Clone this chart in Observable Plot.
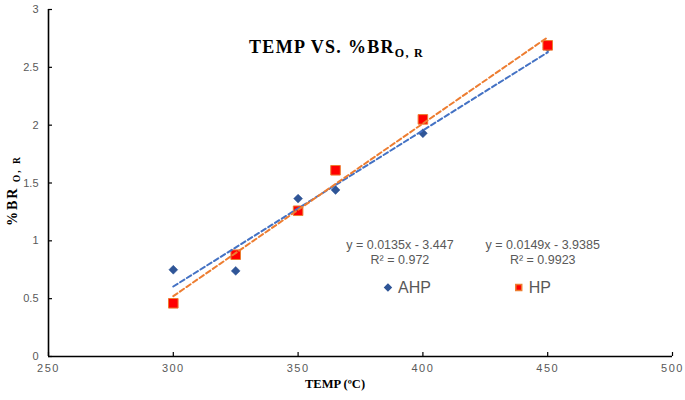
<!DOCTYPE html>
<html><head><meta charset="utf-8">
<script src="https://cdn.jsdelivr.net/npm/d3@7"></script>
<script src="https://cdn.jsdelivr.net/npm/@observablehq/plot@0.6"></script>
<style>
body{margin:0;background:#fff;}
#chart svg{overflow:visible;}
</style>
</head><body><div id="chart"></div>
<script>
// ---- data ----
const temps = [300, 325, 350, 365, 400, 450];
const ahp = [0.75, 0.74, 1.365, 1.44, 1.93, 2.67];
const hp = [0.46, 0.88, 1.26, 1.61, 2.05, 2.69];
const seriesNames = ["AHP", "HP"];
const equations = ["y = 0.0135x - 3.447", "y = 0.0149x - 3.9385"];
const rSquared = ["R² = 0.972", "R² = 0.9923"];
const xTicks = [250, 300, 350, 400, 450, 500];
const yTicks = [0, 0.5, 1, 1.5, 2, 2.5, 3];
const titleMain = "TEMP VS. %BR";
const titleSub = "O, R";
const xLabel = "TEMP (ºC)";
const yLabelMain = "%BR";
const yLabelSub = "O, R";

// ---- build ----
const ahpData = temps.map((t, i) => ({x: t, y: ahp[i]}));
const hpData = temps.map((t, i) => ({x: t, y: hp[i]}));
const blueMarker = "#2F5597", blueLine = "#4472C4";
const redFill = "#FF0000", orangeLine = "#ED7D31";
const grey = "#595959";
const tickFont = "'Liberation Sans', Arial, sans-serif";
const serif = "'Liberation Serif', 'Times New Roman', serif";

// annotation anchors (data units)
const eqX = [390.8, 448];
const eqY = 0.968, r2Y = 0.83;
const legX = [386, 438.4], legY = 0.596;

const plot = Plot.plot({
  width: 685,
  height: 400,
  marginLeft: 48,
  marginRight: 13,
  marginTop: 9,
  marginBottom: 44,
  style: {fontFamily: tickFont, background: "#fff"},
  x: {domain: [250, 500]},
  y: {domain: [0, 3]},
  marks: [
    Plot.axisX({ticks: xTicks, tickSize: -4, tickPadding: 12, fontSize: 11, color: grey, stroke: "#000", strokeWidth: 1.2, label: null, tickFormat: d => String(d)}),
    Plot.axisY({ticks: yTicks, tickSize: -4, tickPadding: 14, fontSize: 11, color: grey, stroke: "#000", strokeWidth: 1.2, label: null, tickFormat: d => String(d)}),
    Plot.ruleY([0], {stroke: "#000", strokeWidth: 1.6}),
    Plot.ruleX([250], {stroke: "#000", strokeWidth: 1.6}),
    Plot.dot(ahpData, {x: "x", y: "y", symbol: "diamond2", r: 4, fill: blueMarker, stroke: blueMarker, strokeWidth: 0.5}),
    Plot.dot(hpData, {x: "x", y: "y", symbol: "square", r: 5.4, fill: redFill, stroke: orangeLine, strokeWidth: 1}),
    Plot.linearRegressionY(ahpData, {x: "x", y: "y", ci: 0, stroke: blueLine, strokeWidth: 2, strokeDasharray: "5,3"}),
    Plot.linearRegressionY(hpData, {x: "x", y: "y", ci: 0, stroke: orangeLine, strokeWidth: 2, strokeDasharray: "5,3"}),
    Plot.text(equations, {x: (d, i) => eqX[i], y: eqY, text: d => d, fontSize: 12.5, fill: grey}),
    Plot.text(rSquared, {x: (d, i) => eqX[i], y: r2Y, text: d => d, fontSize: 12.5, fill: grey}),
    Plot.dot(seriesNames, {x: (d, i) => legX[i], y: legY, symbol: (d, i) => i === 0 ? "diamond2" : "square", r: (d, i) => i === 0 ? 3.4 : 4.6, fill: (d, i) => i === 0 ? blueMarker : redFill, stroke: (d, i) => i === 0 ? blueMarker : orangeLine}),
    Plot.text(seriesNames, {x: (d, i) => legX[i], y: legY, text: d => d, dx: 10, textAnchor: "start", fontSize: 16, fill: grey})
  ]
});
document.getElementById("chart").appendChild(plot);

// styled titles with subscripts, positioned through the plot's scales
const sx = plot.scale("x").apply, sy = plot.scale("y").apply;
const svg = d3.select(plot);
svg.selectAll("g[aria-label='x-axis tick label'] text").attr("letter-spacing", "1.5px");

const t = svg.append("text")
  .attr("x", sx(365.6)).attr("y", sy(2.62))
  .attr("text-anchor", "middle")
  .attr("font-family", serif).attr("font-weight", "bold").attr("font-size", 18).attr("fill", "#000")
  .attr("letter-spacing", "1.3px");
t.append("tspan").text(titleMain);
t.append("tspan").attr("font-size", 12).attr("dy", 4).text(titleSub);

svg.append("text")
  .attr("x", sx(365)).attr("y", 388)
  .attr("text-anchor", "middle")
  .attr("font-family", serif).attr("font-weight", "bold").attr("font-size", 12.5).attr("fill", "#000")
  .text(xLabel);

const yl = svg.append("text")
  .attr("transform", `translate(17,${sy(1.43)}) rotate(-90)`)
  .attr("text-anchor", "middle")
  .attr("font-family", serif).attr("font-weight", "bold").attr("font-size", 14).attr("fill", "#000")
  .attr("letter-spacing", "2px");
yl.append("tspan").text(yLabelMain);
yl.append("tspan").attr("font-size", 9.5).attr("dy", 3).text(" " + yLabelSub);
</script>
</body></html>
